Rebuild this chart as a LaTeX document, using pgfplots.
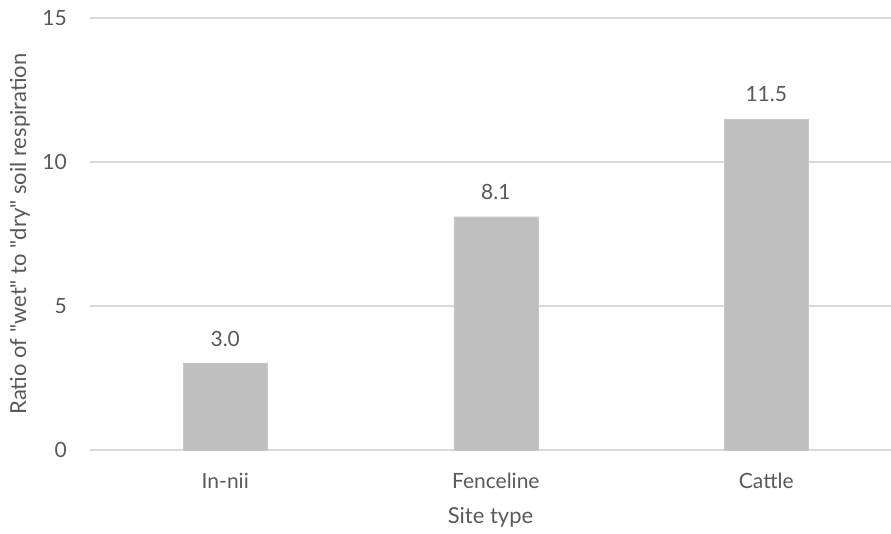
\documentclass[border=0pt]{standalone}
\usepackage{pgfplots}
\pgfplotsset{compat=1.18}
\usepackage{fontspec}
\setmainfont{Lato}
\definecolor{barc}{HTML}{BFBFBF}
\definecolor{gridc}{HTML}{D9D9D9}
\definecolor{txt}{HTML}{595959}
\begin{document}
\begin{tikzpicture}[x=1pt,y=1pt]
\path[use as bounding box] (-90,-83) rectangle (801,450);
\begin{axis}[
  at={(0,0)}, anchor=south west,
  scale only axis,
  width=801pt, height=432pt,
  ymin=0, ymax=15, ytick={0,5,10,15},
  xmin=-0.5, xmax=2.461,
  xtick=data, xticklabels={In-nii,Fenceline,Cattle},
  axis line style={draw=none},
  major tick length=0pt,
  ymajorgrids, grid style={gridc, line width=1.6pt},
  tick label style={font=\fontsize{21}{25}\selectfont, text=txt},
  /pgf/number format/assume math mode=true,
  yticklabel style={anchor=east, inner sep=0pt, xshift=-23pt},
  xticklabel style={anchor=base, inner sep=0pt, yshift=-38pt},
  xlabel={Site type}, ylabel={Ratio of \textquotedbl wet\textquotedbl\ to \textquotedbl dry\textquotedbl\ soil respiration},
  label style={font=\fontsize{22}{26}\selectfont, text=txt},
  xlabel style={at={(axis description cs:0.5,0)}, anchor=base, inner sep=0pt, yshift=-73pt},
  ylabel style={at={(axis description cs:-0.0874,0.5)}, anchor=center, inner sep=0pt},
  nodes near coords,
  nodes near coords style={font=\fontsize{21}{25}\selectfont, text=txt, anchor=base, inner sep=0pt, yshift=17pt, /pgf/number format/fixed, /pgf/number format/fixed zerofill, /pgf/number format/precision=1},
]
\addplot[ybar, bar width=84pt, fill=barc, draw=barc!85!white] coordinates {(0,3.0) (1,8.1) (2,11.5)};
\end{axis}
\end{tikzpicture}
\end{document}
